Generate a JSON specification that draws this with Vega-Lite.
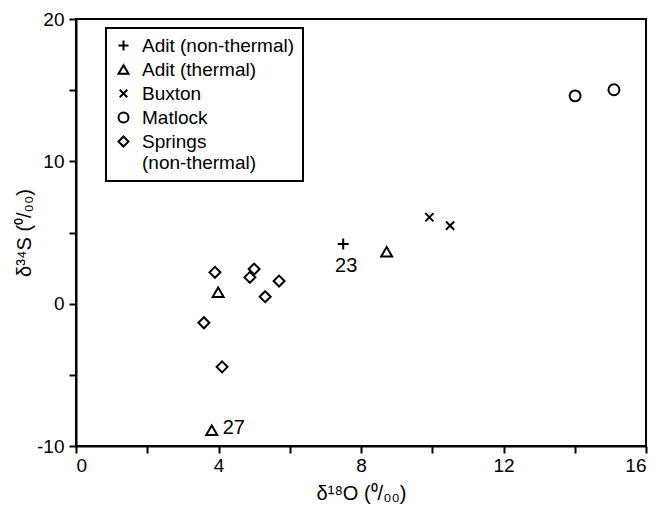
{
  "$schema": "https://vega.github.io/schema/vega-lite/v6.json",
  "width": 570,
  "height": 427,
  "autosize": "none",
  "padding": {"left": 76, "top": 19, "right": 22, "bottom": 77},
  "background": "white",
  "config": {
    "font": "Liberation Sans",
    "view": {"stroke": "black", "strokeWidth": 2},
    "legend": {"strokeWidth": 2},
    "axis": {
      "grid": false,
      "domainColor": "black",
      "domainWidth": 2,
      "tickColor": "black",
      "tickWidth": 2,
      "tickSize": 7,
      "labelFont": "Liberation Sans",
      "labelFontSize": 19,
      "labelColor": "black",
      "titleFont": "Liberation Sans",
      "titleFontSize": 20,
      "titleFontWeight": "normal",
      "titleColor": "black"
    }
  },
  "data": {
    "values": [
      {"group": "Adit (non-thermal)", "x": 7.5, "y": 4.19, "label": "23"},
      {"group": "Adit (thermal)", "x": 8.72, "y": 3.65, "label": null},
      {"group": "Adit (thermal)", "x": 3.99, "y": 0.8, "label": null},
      {"group": "Adit (thermal)", "x": 3.81, "y": -8.89, "label": "27"},
      {"group": "Buxton", "x": 9.92, "y": 6.07, "label": null},
      {"group": "Buxton", "x": 10.5, "y": 5.48, "label": null},
      {"group": "Matlock", "x": 14.01, "y": 14.6, "label": null},
      {"group": "Matlock", "x": 15.1, "y": 15.03, "label": null},
      {"group": "Springs (non-thermal)", "x": 3.9, "y": 2.2, "label": null},
      {"group": "Springs (non-thermal)", "x": 5.0, "y": 2.43, "label": null},
      {"group": "Springs (non-thermal)", "x": 4.88, "y": 1.85, "label": null},
      {"group": "Springs (non-thermal)", "x": 5.7, "y": 1.59, "label": null},
      {"group": "Springs (non-thermal)", "x": 5.31, "y": 0.49, "label": null},
      {"group": "Springs (non-thermal)", "x": 3.59, "y": -1.34, "label": null},
      {"group": "Springs (non-thermal)", "x": 4.1, "y": -4.44, "label": null}
    ]
  },
  "encoding": {
    "x": {
      "field": "x", "type": "quantitative",
      "scale": {"domain": [0, 16], "nice": false, "zero": false},
      "axis": {
        "title": "δ¹⁸O (⁰/₀₀)",
        "values": [0, 2, 4, 6, 8, 10, 12, 14, 16],
        "labelExpr": "datum.value % 4 == 0 ? toString(datum.value) : ''",
        "labelPadding": 3,
        "titlePadding": 8
      }
    },
    "y": {
      "field": "y", "type": "quantitative",
      "scale": {"domain": [-10, 20], "nice": false, "zero": false},
      "axis": {
        "title": "δ³⁴S (⁰/₀₀)",
        "values": [-10, -5, 0, 5, 10, 15, 20],
        "labelExpr": "datum.value % 10 == 0 ? toString(datum.value) : ''",
        "labelPadding": 5,
        "titlePadding": 2
      }
    }
  },
  "layer": [
    {
      "mark": {"type": "point", "filled": false, "stroke": "black", "strokeWidth": 2, "opacity": 1, "size": 120},
      "encoding": {
        "shape": {
          "field": "group", "type": "nominal",
          "scale": {
            "domain": ["Adit (non-thermal)", "Adit (thermal)", "Buxton", "Matlock", "Springs (non-thermal)"],
            "range": ["M-1,0L1,0M0,-1L0,1", "triangle-up", "M-0.75,-0.75L0.75,0.75M-0.75,0.75L0.75,-0.75", "circle", "diamond"]
          },
          "legend": {
            "title": null,
            "orient": "none",
            "legendX": 30,
            "legendY": 9,
            "padding": 8,
            "strokeColor": "black",
            "fillColor": "white",
            "labelFont": "Liberation Sans",
            "labelFontSize": 19,
            "labelColor": "black",
            "labelOffset": 9,
            "labelLimit": 300,
            "rowPadding": 4,
            "symbolStrokeColor": "black",
            "symbolStrokeWidth": 2,
            "symbolFillColor": "transparent",
            "symbolSize": 100,
            "labelExpr": "datum.label == 'Springs (non-thermal)' ? split('Springs|(non-thermal)', '|') : datum.label"
          }
        }
      }
    },
    {
      "transform": [{"filter": "datum.label == '23'"}],
      "mark": {"type": "text", "fontSize": 20, "font": "Liberation Sans", "color": "black", "dx": 3, "dy": 22},
      "encoding": {"text": {"field": "label"}}
    },
    {
      "transform": [{"filter": "datum.label == '27'"}],
      "mark": {"type": "text", "fontSize": 20, "font": "Liberation Sans", "color": "black", "align": "left", "dx": 11, "dy": -2},
      "encoding": {"text": {"field": "label"}}
    }
  ]
}
